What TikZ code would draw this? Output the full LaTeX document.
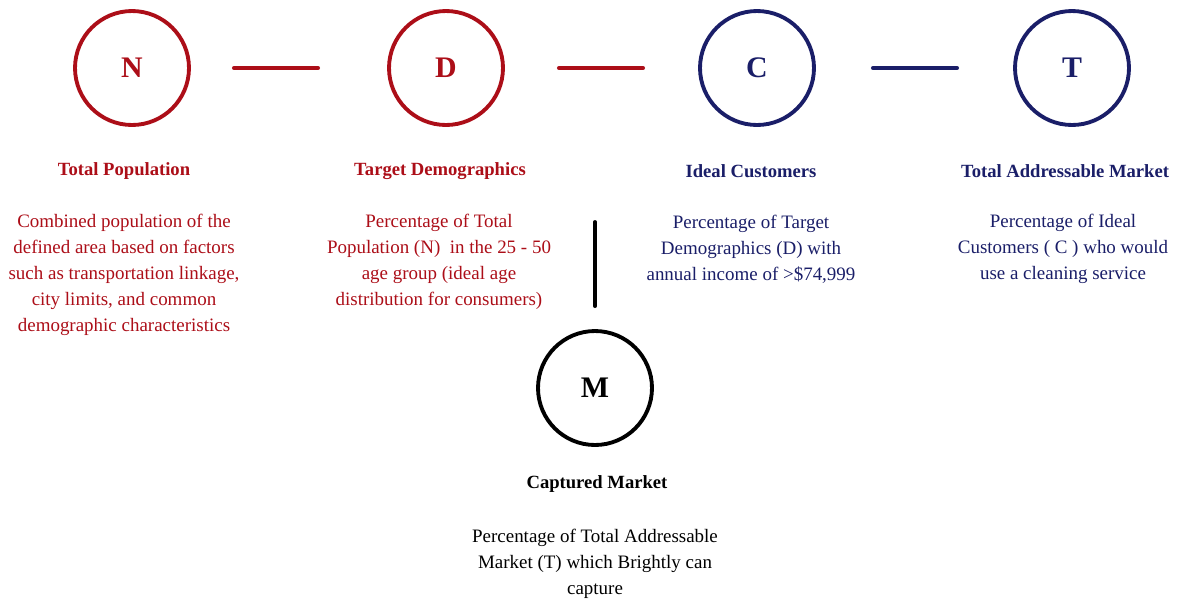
\documentclass[tikz,border=0pt]{standalone}
\usepackage{fontspec}
\setmainfont{Liberation Serif}
\definecolor{brick}{RGB}{172,14,24}
\definecolor{navy}{RGB}{26,30,104}
\tikzset{
  circ/.style={circle,draw,line width=2.2pt,minimum size=2.28cm,inner sep=0pt,
    font=\fontsize{17}{20}\selectfont\bfseries},
  ttl/.style={font=\fontsize{10.6}{13}\selectfont\bfseries},
  body/.style={align=center,font=\fontsize{10.8}{14.8}\selectfont},
  link/.style={line width=2.2pt,line cap=round},
}
\begin{document}
\begin{tikzpicture}[x=0.02cm,y=-0.02cm]
\useasboundingbox (0,0) rectangle (1177,600);
%\draw[step=50,gray,very thin] (0,0) grid (1177,600);
\node[circ,brick] (N) at (132,68) {N};
\node[circ,brick] (D) at (446,68) {D};
\node[circ,navy]  (C) at (757,68) {C};
\node[circ,navy]  (T) at (1072,68) {T};
\node[circ,black] (M) at (595,388) {M};

\draw[link,brick,shorten <=0.86cm,shorten >=1.38cm] (N) -- (D);
\draw[link,brick,shorten <=1.08cm,shorten >=1.1cm] (D) -- (C);
\draw[link,navy,shorten <=1.14cm,shorten >=1.12cm] (C) -- (T);
\coordinate (drop) at (595,222);
\draw[link,black,shorten >=0.46cm] (drop) -- (M);

\node[ttl,brick] (Nt) at (124,171) {Total Population};
\node[ttl,brick] (Dt) at (440,171) {Target Demographics};
\node[ttl,navy]  (Ct) at (751,171) {Ideal Customers};
\node[ttl,navy]  (Tt) at (1065,171) {Total Addressable Market};
\node[ttl,black] (Mt) at (597,484) {Captured Market};

\node[body,brick] (Nb) at (124,275) {Combined population of the\\defined area based on factors\\such as transportation linkage,\\city limits, and common\\demographic characteristics};
\node[body,brick] (Db) at (439,262) {Percentage of Total\\Population (N)\ \ in the 25 - 50\\age group (ideal age\\distribution for consumers)};
\node[body,navy]  (Cb) at (751,249) {Percentage of Target\\Demographics (D) with\\annual income of >\$74,999};
\node[body,navy]  (Tb) at (1063,249) {Percentage of Ideal\\Customers ( C ) who would\\use a cleaning service};
\node[body,black] (Mb) at (595,564) {Percentage of Total Addressable\\Market (T) which Brightly can\\capture};

\end{tikzpicture}
\end{document}
